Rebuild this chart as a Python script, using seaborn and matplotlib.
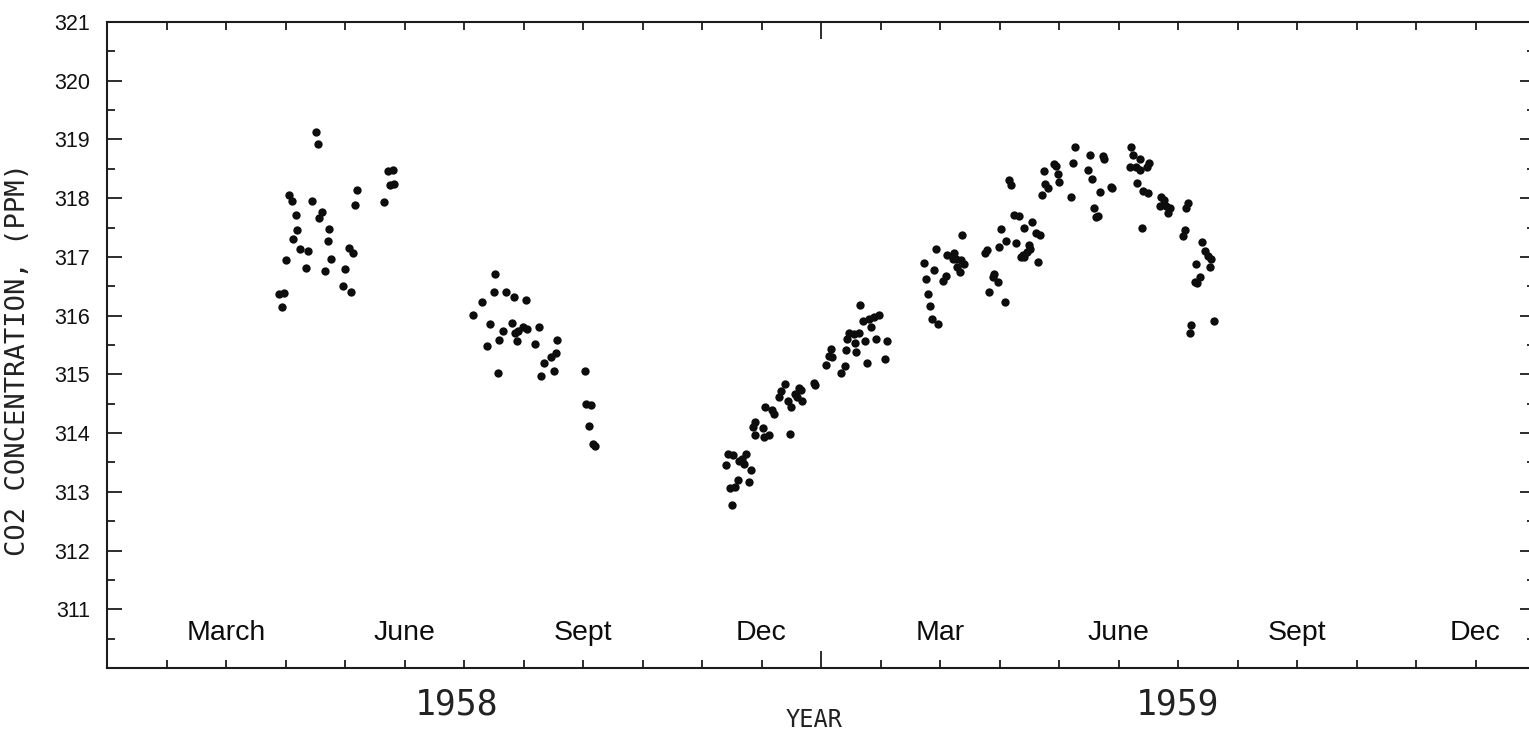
import matplotlib
matplotlib.use("Agg")
import matplotlib.pyplot as plt
import numpy as np
import pandas as pd
import seaborn as sns
from matplotlib.ticker import FixedLocator, MultipleLocator, NullFormatter

# Daily mean CO2 readings, time as decimal year
spring_1958_t = [1958.2921, 1958.2954, 1958.3937, 1958.3999, 1958.3965, 1958.4021,
                 1958.3507, 1958.2552, 1958.2588, 1958.2865, 1958.3473, 1958.3886,
                 1958.2645, 1958.3006, 1958.2973, 1958.2664, 1958.3114, 1958.2612,
                 1958.3090, 1958.2697, 1958.2809, 1958.3389, 1958.3451, 1958.2500,
                 1958.3142, 1958.2781, 1958.3052, 1958.3333, 1958.3305, 1958.3417,
                 1958.2412, 1958.2476, 1958.2448]
spring_1958_ppm = [319.13, 318.93, 318.47, 318.48, 318.22, 318.25,
                   318.14, 318.06, 317.96, 317.95, 317.88, 317.94,
                   317.72, 317.76, 317.66, 317.46, 317.48, 317.30,
                   317.27, 317.14, 317.10, 317.16, 317.06, 316.94,
                   316.97, 316.81, 316.76, 316.80, 316.51, 316.40,
                   316.36, 316.38, 316.15]

autumn_1958_t = [1958.5440, 1958.5417, 1958.5590, 1958.5698, 1958.5871, 1958.5249,
                 1958.5131, 1958.5361, 1958.5670, 1958.5552, 1958.5716, 1958.5763,
                 1958.5824, 1958.5885, 1958.6053, 1958.5496, 1958.5744, 1958.5327,
                 1958.6001, 1958.6306, 1958.6282, 1958.6222, 1958.6114, 1958.6254,
                 1958.6081, 1958.5473, 1958.6695, 1958.6713, 1958.6784, 1958.6746,
                 1958.6808, 1958.6840]
autumn_1958_ppm = [316.71, 316.41, 316.41, 316.31, 316.26, 316.24,
                   316.01, 315.86, 315.88, 315.74, 315.71, 315.74,
                   315.80, 315.77, 315.80, 315.59, 315.57, 315.48,
                   315.51, 315.58, 315.37, 315.29, 315.19, 315.05,
                   314.98, 315.02, 315.05, 314.49, 314.47, 314.12,
                   313.81, 313.78]

winter_t = [1958.8694, 1958.8774, 1958.8951, 1958.8890, 1958.8919, 1958.8666,
            1958.8853, 1958.9013, 1958.8844, 1958.8796, 1958.8726, 1958.8985,
            1958.8760,
            1958.9499, 1958.9897, 1958.9920, 1958.9687, 1958.9723, 1958.9434,
            1958.9406, 1958.9631, 1958.9537, 1958.9729, 1958.9663, 1958.9218,
            1958.9312, 1958.9579, 1958.9340, 1958.9077, 1958.9049, 1958.9185,
            1958.9069, 1958.9195, 1958.9265, 1958.9565,
            1959.0552, 1959.0586, 1959.0670, 1959.0740, 1959.0810, 1959.0706,
            1959.0389, 1959.0459, 1959.0529, 1959.0365, 1959.0473, 1959.0622,
            1959.0768, 1959.0931, 1959.0355, 1959.0492, 1959.0136, 1959.0117,
            1959.0154, 1959.0650, 1959.0899, 1959.0074, 1959.0333, 1959.0285]
winter_ppm = [313.64, 313.62, 313.65, 313.56, 313.48, 313.45,
              313.53, 313.38, 313.20, 313.08, 313.07, 313.17,
              312.77,
              314.84, 314.86, 314.82, 314.76, 314.73, 314.72,
              314.62, 314.66, 314.55, 314.55, 314.62, 314.44,
              314.39, 314.45, 314.33, 314.19, 314.11, 314.08,
              313.96, 313.93, 313.96, 313.99,
              316.18, 315.91, 315.95, 315.98, 316.01, 315.80,
              315.71, 315.69, 315.70, 315.61, 315.54, 315.57,
              315.60, 315.57, 315.42, 315.38, 315.44, 315.32,
              315.29, 315.20, 315.27, 315.16, 315.14, 315.02]

spring_1959_t = [1959.1980, 1959.1605, 1959.1442, 1959.1760, 1959.1864, 1959.1886,
                 1959.1850, 1959.1966, 1959.2004, 1959.1910, 1959.1942, 1959.1583,
                 1959.1465, 1959.1746, 1959.1713, 1959.1499, 1959.1521, 1959.1549,
                 1959.1639,
                 1959.2636, 1959.2659, 1959.2524, 1959.2706, 1959.2767, 1959.2954,
                 1959.2847, 1959.3010, 1959.3066, 1959.2598, 1959.2729, 1959.2496,
                 1959.2907, 1959.2926, 1959.2879, 1959.2823, 1959.2847, 1959.2799,
                 1959.3038, 1959.2331, 1959.2299, 1959.2425, 1959.2402, 1959.2472,
                 1959.2355, 1959.2580]
spring_1959_ppm = [317.37, 317.14, 316.90, 317.03, 317.06, 316.97,
                   316.96, 316.95, 316.88, 316.82, 316.75, 316.78,
                   316.62, 316.68, 316.59, 316.37, 316.16, 315.95,
                   315.86,
                   318.31, 318.22, 317.47, 317.72, 317.70, 317.60,
                   317.50, 317.40, 317.37, 317.27, 317.23, 317.17,
                   317.20, 317.13, 317.09, 317.03, 316.99, 317.00,
                   316.91, 317.12, 317.06, 316.71, 316.65, 316.58,
                   316.41, 316.24]

summer_1959_t = [1959.3128, 1959.3258, 1959.3291, 1959.3315, 1959.3338, 1959.3142,
                 1959.3174, 1959.3090, 1959.3553, 1959.3525, 1959.3501, 1959.3774,
                 1959.3746, 1959.3796, 1959.3947, 1959.3970, 1959.4055, 1959.4073,
                 1959.3909, 1959.3830, 1959.3853, 1959.3876, 1959.4344, 1959.4368,
                 1959.4330, 1959.4470, 1959.4414, 1959.4462, 1959.4593, 1959.4565,
                 1959.4420, 1959.4508, 1959.4579, 1959.4499, 1959.4765, 1959.4799,
                 1959.4743, 1959.4827, 1959.4883, 1959.4864, 1959.5140, 1959.5108,
                 1959.5094, 1959.5070, 1959.5333, 1959.5375, 1959.5421, 1959.5468,
                 1959.5249, 1959.5445, 1959.5305, 1959.5267, 1959.5235, 1959.5187,
                 1959.5164, 1959.5501]
summer_1959_ppm = [318.46, 318.59, 318.55, 318.42, 318.28, 318.25,
                   318.18, 318.05, 318.87, 318.60, 318.02, 318.73,
                   318.48, 318.32, 318.72, 318.66, 318.19, 318.18,
                   318.11, 317.84, 317.68, 317.70, 318.87, 318.73,
                   318.53, 318.66, 318.53, 318.48, 318.60, 318.53,
                   318.26, 318.13, 318.08, 317.50, 318.02, 317.97,
                   317.87, 317.87, 317.84, 317.74, 317.92, 317.83,
                   317.46, 317.35, 317.26, 317.10, 317.01, 316.96,
                   316.88, 316.82, 316.65, 316.56, 316.58, 315.84,
                   315.70, 315.91]

month_labels = ["March", "June", "Sept", "Dec", "Mar", "June", "Sept", "Dec"]
month_label_t = [1958 + 2 / 12, 1958 + 5 / 12, 1958 + 8 / 12, 1958 + 11 / 12,
                 1959 + 2 / 12, 1959 + 5 / 12, 1959 + 8 / 12, 1959 + 11 / 12]
year_labels = ["1958", "1959"]
year_label_t = [1958.49, 1959.50]
y_ticks = list(range(311, 322))

df = pd.DataFrame({
    "year": spring_1958_t + autumn_1958_t + winter_t + spring_1959_t + summer_1959_t,
    "ppm": spring_1958_ppm + autumn_1958_ppm + winter_ppm + spring_1959_ppm + summer_1959_ppm,
})

sns.set_style("ticks")
plt.rcParams["font.family"] = ["Liberation Sans", "DejaVu Sans"]

W, H = 1529, 736
fig = plt.figure(figsize=(W / 100, H / 100), dpi=100)
fig.patch.set_facecolor("white")
# the frame runs slightly past the right edge of the page
ax = fig.add_axes([107 / W, 68 / H, 1428 / W, 646 / H])

sns.scatterplot(data=df, x="year", y="ppm", ax=ax, color="#0d0d0d", s=36,
                linewidth=0, legend=False)

ax.set_xlim(1958, 1960)
ax.set_ylim(310, 321)

ink = "#1c1c1c"
for side in ax.spines.values():
    side.set_color(ink)
    side.set_linewidth(1.5)

# x: a tick at each month, a long tick at each new year
ax.xaxis.set_major_locator(FixedLocator([1959.0]))
ax.xaxis.set_minor_locator(FixedLocator([1958 + k / 12 for k in range(1, 24) if k != 12]))
ax.xaxis.set_major_formatter(NullFormatter())
ax.xaxis.set_minor_formatter(NullFormatter())
ax.tick_params(axis="x", which="both", direction="in", top=True, bottom=True,
               color=ink, width=1.3)
ax.tick_params(axis="x", which="major", length=12)
ax.tick_params(axis="x", which="minor", length=6)

# y: labelled whole ppm, unlabelled half ppm
ax.yaxis.set_major_locator(FixedLocator(y_ticks))
ax.yaxis.set_minor_locator(MultipleLocator(0.5))
ax.tick_params(axis="y", which="both", direction="in", left=True, right=True,
               color=ink, width=1.3)
ax.tick_params(axis="y", which="major", length=11, labelsize=15.5, pad=12,
               labelcolor="#111111")
ax.tick_params(axis="y", which="minor", length=6)

ax.set_xlabel("YEAR", family="DejaVu Sans Mono", fontsize=17, color="#222222")
ax.xaxis.set_label_coords(0.495, -0.062)
ax.set_ylabel("CO2 CONCENTRATION, (PPM)", family="DejaVu Sans Mono", fontsize=19.5,
              color="#222222")
ax.yaxis.set_label_coords(-0.053, 0.4768)

for t, lab in zip(month_label_t, month_labels):
    ax.text(t, 310.59, lab, ha="center", va="center", fontsize=20.5, color="#0d0d0d")

for t, lab in zip(year_label_t, year_labels):
    ax.text(t, -0.057, lab, transform=ax.get_xaxis_transform(), ha="center",
            va="center", family="DejaVu Sans Mono", fontsize=25, color="#222222")

fig.savefig("out.png", dpi=100, facecolor="white")
